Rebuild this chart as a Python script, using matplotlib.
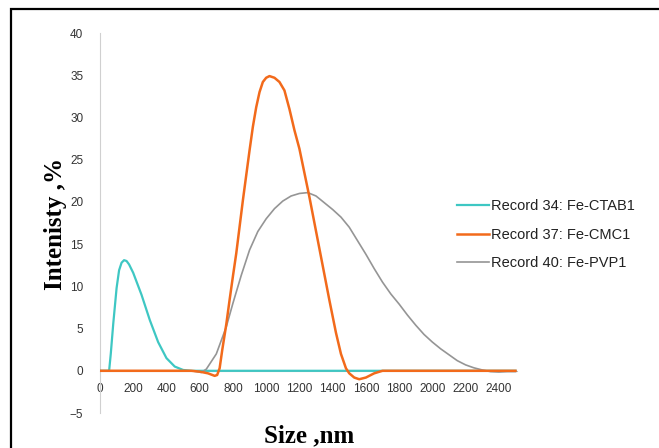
import matplotlib.pyplot as plt
from matplotlib.patches import Rectangle

# series (size in nm, intensity in %)
ctab_x = [0, 55, 65, 80, 100, 115, 130, 145, 160, 175, 200, 225, 250, 275, 300, 350,
          400, 450, 500, 550, 2500]
ctab_y = [0, 0, 2.0, 5.6, 9.8, 11.9, 12.8, 13.1, 13.0, 12.6, 11.6, 10.3, 9.0, 7.5, 6.0,
          3.4, 1.5, 0.5, 0.1, 0, 0]

cmc_x = [0, 550, 600, 650, 690, 705, 720, 736, 760, 780, 800, 820, 860, 900, 920, 940,
         960, 980, 1000, 1020, 1050, 1080, 1110, 1140, 1170, 1200, 1260, 1320, 1380,
         1420, 1450, 1480, 1500, 1530, 1560, 1600, 1650, 1700, 2500]
cmc_y = [0, 0, -0.1, -0.3, -0.6, -0.5, 0.3, 2.5, 5.5, 8.4, 11.2, 13.9, 20.2, 26.1, 28.9,
         31.2, 33.0, 34.2, 34.7, 34.9, 34.7, 34.2, 33.2, 31.0, 28.5, 26.3, 20.6, 14.5,
         8.4, 4.5, 2.0, 0.3, -0.3, -0.8, -1.0, -0.8, -0.3, 0, 0]

pvp_x = [0, 550, 580, 610, 640, 700, 760, 800, 850, 900, 950, 1000, 1050, 1100, 1150,
         1200, 1250, 1300, 1350, 1400, 1450, 1500, 1550, 1600, 1650, 1700, 1750, 1800,
         1850, 1900, 1950, 2000, 2050, 2100, 2150, 2200, 2250, 2300, 2350, 2400, 2450, 2500]
pvp_y = [0, 0, -0.1, -0.2, 0.2, 2.0, 5.2, 8.0, 11.3, 14.3, 16.5, 18.0, 19.2, 20.1, 20.7,
         21.0, 21.1, 20.7, 19.9, 19.1, 18.2, 17.0, 15.4, 13.8, 12.1, 10.5, 9.1, 7.9,
         6.6, 5.4, 4.3, 3.4, 2.6, 1.9, 1.2, 0.7, 0.35, 0.1, -0.1, -0.15, -0.1, -0.1]

labels = ['Record 34: Fe-CTAB1', 'Record 37: Fe-CMC1', 'Record 40: Fe-PVP1']
colors = ['#3ec7c3', '#f26a1b', '#959595']

fig = plt.figure(figsize=(6.59, 4.48), dpi=100)
ax = fig.add_axes([0.1517, 0.0781, 0.633, 0.8482])

# black frame around the picture (clipped on right and bottom like the original)
fig.patches.append(Rectangle((0.017, -0.05), 1.2, 1.03, transform=fig.transFigure,
                             fill=False, edgecolor='black', linewidth=1.6))

l1, = ax.plot(ctab_x, ctab_y, color=colors[0], lw=1.6, zorder=3, solid_joinstyle='round')
l3, = ax.plot(pvp_x, pvp_y, color=colors[2], lw=1.2, zorder=4, solid_joinstyle='round')
l2, = ax.plot(cmc_x, cmc_y, color=colors[1], lw=1.8, zorder=5, solid_joinstyle='round')

ax.set_xlim(0, 2510)
ax.set_ylim(-5, 40)
ax.set_xticks(range(0, 2401, 200))
ax.set_yticks(range(-5, 41, 5))

for s in ['top', 'right']:
    ax.spines[s].set_visible(False)
ax.spines['bottom'].set_position(('data', 0))
ax.spines['bottom'].set_color('#bbbbbb')
ax.spines['left'].set_color('#d0d0d0')

ax.tick_params(axis='both', length=0, labelsize=8.5, labelcolor='#333333')
ax.tick_params(axis='y', pad=12)
ax.tick_params(axis='x', pad=9)
for t in ax.get_xticklabels() + ax.get_yticklabels():
    t.set_family('Liberation Sans')

fig.text(0.084, 0.50, 'Intenisty ,%', rotation=90, ha='center', va='center',
         family='Liberation Serif', fontweight='bold', fontsize=18)
fig.text(0.469, 0.028, 'Size ,nm', ha='center', va='center',
         family='Liberation Serif', fontweight='bold', fontsize=18)

leg = fig.legend([l1, l2, l3], labels, loc='center left', bbox_to_anchor=(0.683, 0.476),
                 frameon=False, handlelength=2.2, handletextpad=0.1, labelspacing=1.0,
                 borderpad=0, prop={'family': 'Liberation Sans', 'size': 10.5})
for t in leg.get_texts():
    t.set_color('#222222')

fig.savefig('out.png', dpi=100)
